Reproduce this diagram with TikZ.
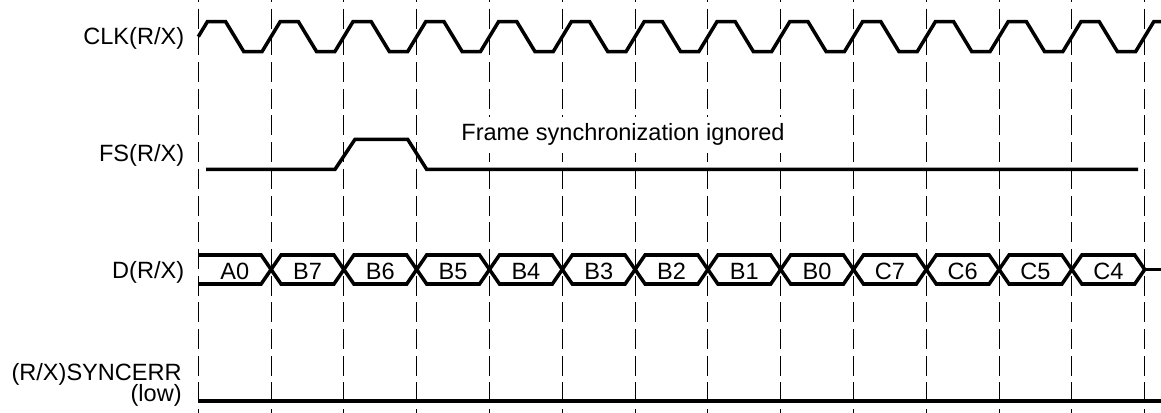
\documentclass[tikz,border=0pt]{standalone}
\usepackage{fontspec}
\setmainfont{Liberation Sans}

\begin{document}
\begin{tikzpicture}[x=1.456cm,y=1cm,font=\fontsize{13.4}{16}\selectfont,
    wave/.style={line width=2pt},
    guide/.style={line width=0.6pt,dash pattern=on 0.4cm off 0.134cm},
    every node/.style={inner sep=0pt}]

  \useasboundingbox (-2.724,0) rectangle (13.224,-8.26);

  \foreach \i in {0,...,13}
    \draw[guide] (\i,0.36) -- (\i,-8.5);

  \begin{scope}[every node/.style={anchor=base east,inner sep=0pt}]
    \node (clk)  at (-0.19,-0.9)   {CLK(R/X)};
    \node (fs)   at (-0.19,-3.233) {FS(R/X)};
    \node (data) at (-0.19,-5.567) {D(R/X)};
    \node (err)  at (-0.224,-7.6)  {(R/X)SYNCERR};
    \node (low)  at (-0.224,-8.02) {(low)};
  \end{scope}

  \draw[wave] (0,-0.733)
    \foreach \i in {0,...,12} {
      -- (\i+0.125,-0.433) -- (\i+0.375,-0.433) -- (\i+0.625,-1.033) -- (\i+0.875,-1.033)
    } -- (13.125,-0.433) -- (13.3,-0.433);

  \draw[wave] (0.106,-3.387) -- (1.878,-3.387) -- (2.152,-2.787) -- (2.876,-2.787)
    -- (3.137,-3.387) -- (12.908,-3.387);
  \node[fill=white,inner sep=4pt,anchor=base] (ignored) at (5.834,-2.813)
    {Frame synchronization ignored};

  \draw[wave] (0,-5.1) -- (0.863,-5.1) -- (1,-5.39) -- (0.863,-5.68) -- (0,-5.68);
  \foreach \k in {1,...,12}
    \draw[wave] (\k,-5.39) -- (\k+0.137,-5.1) -- (\k+0.863,-5.1) -- (\k+1,-5.39)
      -- (\k+0.863,-5.68) -- (\k+0.137,-5.68) -- cycle;
  \draw[wave] (13,-5.39) -- (13.3,-5.39);
  \foreach \lbl [count=\k from 0] in {A0,B7,B6,B5,B4,B3,B2,B1,B0,C7,C6,C5,C4}
    \node[anchor=base] (d\k) at (\k+0.5,-5.6) {\lbl};

  \draw[wave] (0,-8.02) -- (13.3,-8.02);

\end{tikzpicture}
\end{document}
